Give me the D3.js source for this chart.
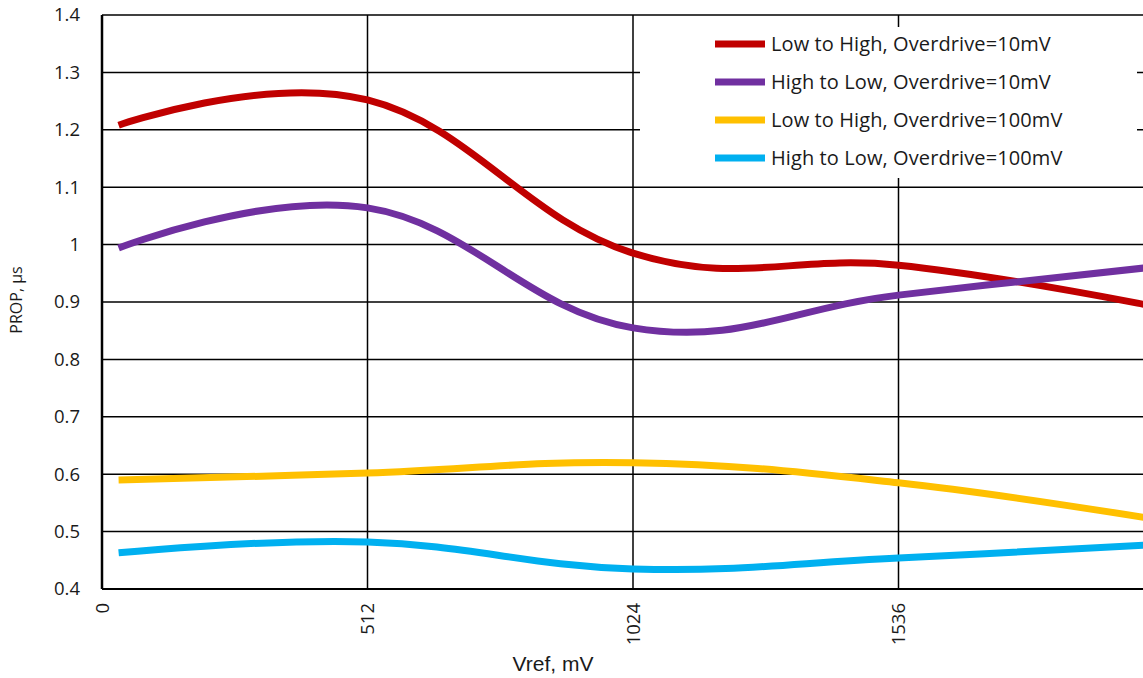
<!DOCTYPE html>
<html>
<head>
<meta charset="utf-8">
<script src="https://cdn.jsdelivr.net/npm/d3@7"></script>
<style>
  body { margin: 0; background: #fff; }
  svg { display: block; font-family: 'Open Sans', sans-serif; }
  .tick text { fill: #1a1a1a; }
</style>
</head>
<body>
<div id="chart"></div>
<script>
// data
var vref = [32, 512, 1024, 1536, 2048];
var lowHigh10 = [1.208, 1.252, 0.985, 0.964, 0.889];
var highLow10 = [0.994, 1.064, 0.855, 0.912, 0.963];
var lowHigh100 = [0.590, 0.602, 0.620, 0.585, 0.519];
var highLow100 = [0.463, 0.482, 0.435, 0.454, 0.478];

var seriesNames = ['Low to High, Overdrive=10mV', 'High to Low, Overdrive=10mV',
    'Low to High, Overdrive=100mV', 'High to Low, Overdrive=100mV'];
var seriesValues = [lowHigh10, highLow10, lowHigh100, highLow100];
var colors = ['#C00000', '#7030A0', '#FFC000', '#00B0F0'];

var xTicks = [0, 512, 1024, 1536];
var yTicks = [0.4, 0.5, 0.6, 0.7, 0.8, 0.9, 1, 1.1, 1.2, 1.3, 1.4];

var svgWidth = 1143;
var svgHeight = 678;

// plot area (right edge runs off the picture)
var plotLeft = 102, plotTop = 15, plotBottom = 589;
var plotRight = plotLeft + 4 * 265.5;

var svg = d3.select('#chart')
    .append('svg')
    .attr('width', svgWidth)
    .attr('height', svgHeight);

var x = d3.scaleLinear().domain([0, 2048]).range([plotLeft, plotRight]);
var y = d3.scaleLinear().domain([0.4, 1.4]).range([plotBottom, plotTop]);

// horizontal grid
svg.append('g')
    .selectAll('line')
    .data(yTicks)
    .enter()
    .append('line')
    .attr('x1', plotLeft)
    .attr('x2', plotRight)
    .attr('y1', d => y(d))
    .attr('y2', d => y(d))
    .attr('stroke', '#000')
    .attr('stroke-width', d => (d === 0.4 ? 2 : 1.5));

// vertical grid
svg.append('g')
    .selectAll('line')
    .data(xTicks.slice(1))
    .enter()
    .append('line')
    .attr('x1', d => x(d))
    .attr('x2', d => x(d))
    .attr('y1', plotTop)
    .attr('y2', plotBottom)
    .attr('stroke', '#000')
    .attr('stroke-width', 1.5);

// left axis line
svg.append('line')
    .attr('x1', plotLeft).attr('x2', plotLeft)
    .attr('y1', plotTop).attr('y2', plotBottom)
    .attr('stroke', '#000')
    .attr('stroke-width', 2.5);

// y axis labels
var yAxis = d3.axisLeft(y)
    .tickValues(yTicks)
    .tickSize(0)
    .tickPadding(22)
    .tickFormat(d => (d === 1 ? '1' : d3.format('.1f')(d)));

svg.append('g')
    .attr('transform', `translate(${plotLeft},0)`)
    .call(yAxis)
    .call(g => g.select('.domain').remove())
    .selectAll('text')
    .style('font-size', '18.5px')
    .style('font-family', "'Open Sans', sans-serif");

// x axis labels (rotated)
var xAxis = d3.axisBottom(x)
    .tickValues(xTicks)
    .tickSize(0)
    .tickFormat(d3.format('d'));

svg.append('g')
    .attr('transform', `translate(0,${plotBottom})`)
    .call(xAxis)
    .call(g => g.select('.domain').remove())
    .selectAll('text')
    .style('font-size', '18.5px')
    .style('font-family', "'Open Sans', sans-serif")
    .attr('text-anchor', 'end')
    .attr('dy', '0.35em')
    .attr('transform', 'translate(0,14) rotate(-90)')
    .attr('y', 0)
    .attr('x', 0);

// lines (smoothed like the spreadsheet original)
var line = d3.line()
    .x((d, i) => x(vref[i]))
    .y(d => y(d))
    .curve(d3.curveCardinal.tension(-0.2));

svg.append('g')
    .selectAll('path')
    .data(seriesValues)
    .enter()
    .append('path')
    .attr('d', d => line(d))
    .attr('fill', 'none')
    .attr('stroke', (d, i) => colors[i])
    .attr('stroke-width', 7);

// legend
var legend = svg.append('g');

legend.append('rect')
    .attr('x', 640)
    .attr('y', 27)
    .attr('width', 497)
    .attr('height', 151)
    .attr('fill', '#fff');

var items = legend.selectAll('g.item')
    .data(seriesNames)
    .enter()
    .append('g')
    .attr('class', 'item')
    .attr('transform', (d, i) => `translate(715,${44 + i * 38})`);

items.append('line')
    .attr('x1', 0)
    .attr('x2', 50)
    .attr('stroke', (d, i) => colors[i])
    .attr('stroke-width', 7);

items.append('text')
    .attr('x', 56)
    .attr('dy', '0.35em')
    .style('font-size', '20px')
    .style('letter-spacing', '0.1px')
    .style('fill', '#1a1a1a')
    .text(d => d);

// axis titles
svg.append('text')
    .attr('transform', 'translate(22,300) rotate(-90)')
    .attr('text-anchor', 'middle')
    .style('font-size', '16px')
    .style('fill', '#1a1a1a')
    .text('PROP, µs');

svg.append('text')
    .attr('x', 553)
    .attr('y', 671)
    .attr('text-anchor', 'middle')
    .style('font-family', "'Liberation Sans Narrow', 'Liberation Sans', sans-serif")
    .style('font-size', '21px')
    .style('fill', '#1a1a1a')
    .text('Vref, mV');
</script>
</body>
</html>
